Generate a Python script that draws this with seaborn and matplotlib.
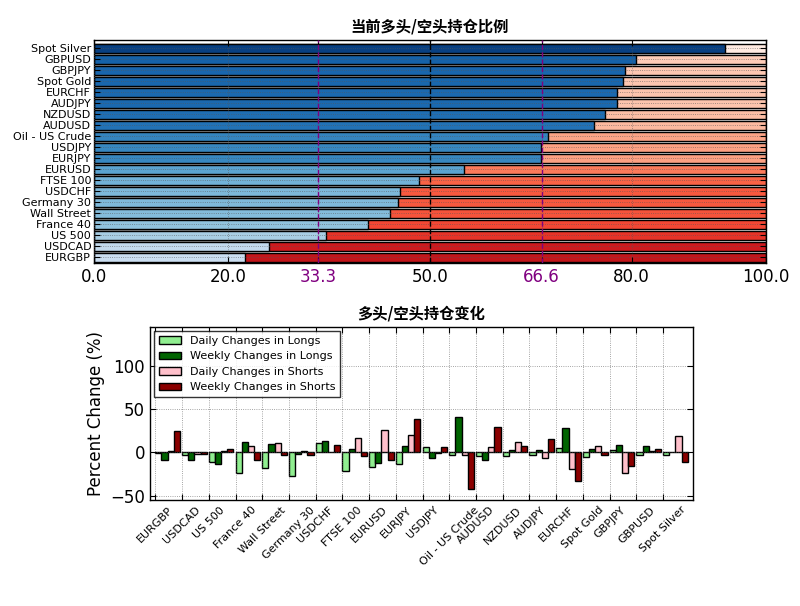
import numpy as np
import pandas as pd
import matplotlib
matplotlib.use("Agg")
import matplotlib.pyplot as plt
import seaborn as sns

# ---------------- data ----------------
symbols = ["EURGBP", "USDCAD", "US 500", "France 40", "Wall Street", "Germany 30",
           "USDCHF", "FTSE 100", "EURUSD", "EURJPY", "USDJPY", "Oil - US Crude",
           "AUDUSD", "NZDUSD", "AUDJPY", "EURCHF", "Spot Gold", "GBPJPY",
           "GBPUSD", "Spot Silver"]
long_pct = [22.5, 26.0, 34.5, 40.8, 44.1, 45.3, 45.6, 48.4, 55.0, 66.5,
            66.5, 67.6, 74.4, 76.1, 77.8, 77.9, 78.7, 79.0, 80.6, 93.9]
short_pct = [round(100 - v, 1) for v in long_pct]

daily_longs = [-1.0, -2.7, -11.2, -24.4, -18.2, -27.1, 10.9, -21.3, -17.0, -13.6,
               5.8, -3.1, -4.2, -3.9, -2.7, 5.0, -5.4, 3.1, -2.7, -3.1]
weekly_longs = [-9.3, -8.5, -13.6, 12.4, 9.3, -1.5, 13.6, 4.3, -12.4, 7.8,
                -6.6, 40.7, -9.3, 2.3, 2.3, 28.3, 4.3, 8.9, 7.8, 1.0]
daily_shorts = [2.0, -1.5, 1.5, 7.8, 10.9, 1.5, 1.0, 16.7, 25.6, 19.8,
                -0.8, -3.1, 5.8, 11.6, -6.6, -19.4, 7.8, -23.3, 1.5, 18.6]
weekly_shorts = [25.2, -2.0, 4.3, -8.5, -2.7, -2.7, 8.9, -3.9, -8.5, 38.0,
                 6.6, -42.2, 29.5, 7.8, 15.9, -32.6, -2.7, -16.3, 3.9, -11.6]

series_names = ["Daily Changes in Longs", "Weekly Changes in Longs",
                "Daily Changes in Shorts", "Weekly Changes in Shorts"]
series_colors = ["#90ee90", "#006400", "#ffc0cb", "#8b0000"]

top_ticks = [0.0, 20.0, 33.3, 50.0, 66.6, 80.0, 100.0]
bottom_yticks = [-50, 0, 50, 100]

title_top = "当前多头/空头持仓比例"
title_bottom = "多头/空头持仓变化"
ylabel_bottom = "Percent Change (%)"

# ---------------- style ----------------
sns.set_style("white")
plt.rcParams.update({
    "font.family": ["DejaVu Sans", "Noto Sans CJK SC"],
    "text.color": "black",
    "axes.labelcolor": "black",
    "xtick.color": "black",
    "ytick.color": "black",
    "xtick.direction": "in",
    "ytick.direction": "in",
    "xtick.top": True,
    "ytick.right": True,
    "xtick.bottom": True,
    "ytick.left": True,
    "xtick.major.size": 4,
    "ytick.major.size": 4,
    "axes.edgecolor": "black",
    "axes.linewidth": 1.0,
    "axes.axisbelow": False,
    "grid.color": "#555555",
    "grid.linestyle": ":",
    "grid.linewidth": 0.6,
    "grid.alpha": 0.7,
})

fig = plt.figure(figsize=(8.0, 6.06), dpi=100)

# ---------------- top chart ----------------
ax1 = fig.add_axes([0.1175, 0.566, 0.84, 0.368])
order_top = symbols[::-1]
blues = plt.get_cmap("Blues")
reds = plt.get_cmap("Reds")
long_col = {s: blues(v / 100.0) for s, v in zip(symbols, long_pct)}
short_col = {s: reds(v / 100.0) for s, v in zip(symbols, short_pct)}

df_top = pd.DataFrame({"symbol": symbols, "long": long_pct, "short": short_pct})
df_top["total"] = df_top["long"] + df_top["short"]

sns.barplot(data=df_top, x="total", y="symbol", hue="symbol", order=order_top,
            palette=short_col, legend=False, orient="h", width=0.8,
            saturation=1, edgecolor="black", linewidth=1.0, ax=ax1)
sns.barplot(data=df_top, x="long", y="symbol", hue="symbol", order=order_top,
            palette=long_col, legend=False, orient="h", width=0.8,
            saturation=1, edgecolor="black", linewidth=1.0, ax=ax1)

ax1.set_xlim(0, 100)
ax1.set_ylim(len(symbols) - 0.5, -0.75)
ax1.set_xticks(top_ticks)
ax1.set_xticklabels([f"{t:.1f}" for t in top_ticks], fontsize=12)
for lbl, t in zip(ax1.get_xticklabels(), top_ticks):
    if t in (33.3, 66.6):
        lbl.set_color("purple")
ax1.tick_params(axis="y", labelsize=8, pad=2)
ax1.grid(True, axis="both")
ax1.axvline(50, color="black", linestyle="--", linewidth=1.0, zorder=3)
ax1.axvline(33.3, color="purple", linestyle="--", linewidth=1.0, zorder=3)
ax1.axvline(66.6, color="purple", linestyle="--", linewidth=1.0, zorder=3)
ax1.set_xlabel("")
ax1.set_ylabel("")
ax1.set_title(title_top, fontsize=11, fontweight="bold",
              family=["Noto Sans CJK SC", "DejaVu Sans"], pad=6)

# ---------------- bottom chart ----------------
ax2 = fig.add_axes([0.1875, 0.175, 0.6788, 0.2855])
rows = []
for name, vals in zip(series_names, [daily_longs, weekly_longs, daily_shorts, weekly_shorts]):
    for s, v in zip(symbols, vals):
        rows.append({"symbol": s, "series": name, "value": v})
df_bot = pd.DataFrame(rows)

sns.barplot(data=df_bot, x="symbol", y="value", hue="series", order=symbols,
            hue_order=series_names, palette=series_colors, width=0.92,
            saturation=1, edgecolor="black", linewidth=1.0, errorbar=None, ax=ax2)

n = len(symbols)
ax2.set_xlim(-0.66, n - 1 + 0.66)
ax2.set_ylim(-55, 145)
ax2.set_xticks(np.arange(n) - 0.46)
ax2.set_xticklabels(symbols, rotation=45, ha="center", fontsize=8)
ax2.set_yticks(bottom_yticks)
ax2.tick_params(axis="y", labelsize=12)
ax2.grid(True, axis="both")
ax2.set_xlabel("")
ax2.set_ylabel(ylabel_bottom, fontsize=12)
ax2.set_title(title_bottom, fontsize=11, fontweight="bold",
              family=["Noto Sans CJK SC", "DejaVu Sans"], pad=6)
leg = ax2.legend(loc="upper left", fontsize=8, frameon=True, fancybox=False,
                 borderaxespad=0.4, handlelength=2.0)
leg.get_frame().set_edgecolor("black")
leg.get_frame().set_linewidth(1.0)
for h in leg.legend_handles:
    h.set_edgecolor("black")
    h.set_linewidth(1.0)

fig.savefig("out.png", dpi=100)
